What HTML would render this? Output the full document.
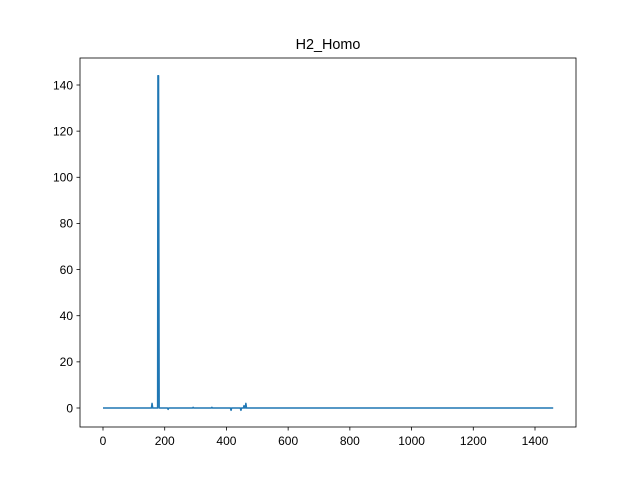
<!DOCTYPE html>
<html><head><meta charset="utf-8"><style>body{margin:0;background:#fff}svg{display:block;font-family:"Liberation Sans","DejaVu Sans",sans-serif}</style></head>
<body>
<svg id="chart" width="640" height="480">
<rect x="0" y="0" width="640" height="480" fill="#fff"/>
<text x="328" y="49" text-anchor="middle" font-size="14.4">H2_Homo</text>
<g id="plot"></g>
<rect x="80" y="58" width="496" height="369" fill="none" stroke="#000" stroke-width="0.8"/>
</svg>
<script>
const xs = [0,157,159,161,177,178,180,182,183,209,211,213,290,292,294,351,353,355,413,415,417,445,447,449,455,457,459,461,463,465,1459];
const ys = [0,0,2,0,0,144,144,0,0,0,-0.6,0,0,0.3,0,0,0.3,0,0,-1,0,0,-1,0,0,1,0,0,2,0,0];
const xTicks = [0,200,400,600,800,1000,1200,1400];
const yTicks = [0,20,40,60,80,100,120,140];
const X = v => 103 + v * (432/1400);
const Y = v => 408 - v * (323/140);
const NS = "http://www.w3.org/2000/svg";
const g = document.getElementById('plot');
function mk(t, a){const e=document.createElementNS(NS,t);for(const k in a)e.setAttribute(k,a[k]);g.appendChild(e);return e;}
xTicks.forEach(v=>{
  const l=mk('line',{x1:X(v),x2:X(v),y1:427,y2:430.5,stroke:'#000','stroke-width':0.8});
  
  
  const t=mk('text',{x:X(v),y:445,'text-anchor':'middle','font-size':12});
  t.textContent=v;
  
  
});
yTicks.forEach(v=>{
  const l=mk('line',{x1:76.5,x2:80,y1:Y(v),y2:Y(v),stroke:'#000','stroke-width':0.8});
  
  
  const t=mk('text',{x:73,y:Y(v)+4.3,'text-anchor':'end','font-size':12});
  t.textContent=v;
  
  
});
const pts = xs.map((x,i)=>X(x).toFixed(2)+','+Y(ys[i]).toFixed(2)).join(' ');
const line = mk('polyline',{points:pts,fill:'none',stroke:'#1f77b4','stroke-width':1.5,'stroke-linejoin':'round'});


</script>
</body></html>
